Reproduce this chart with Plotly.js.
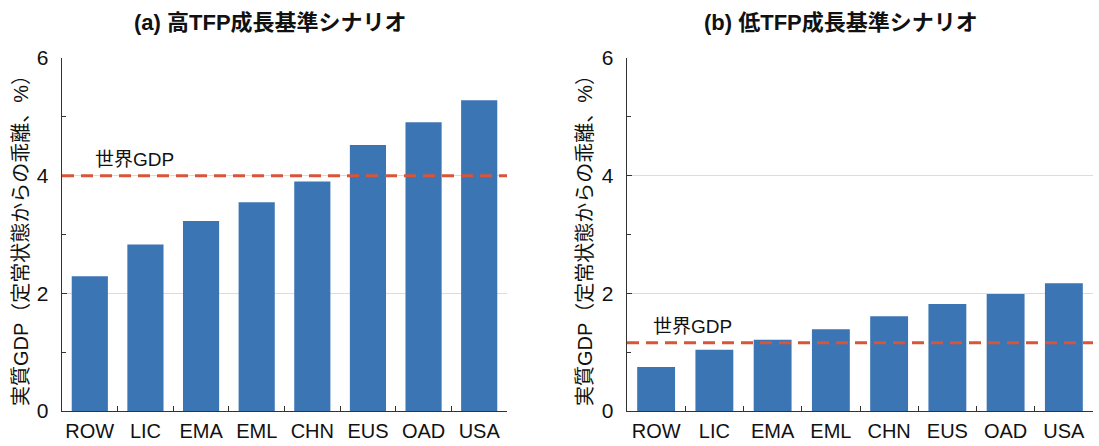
<!DOCTYPE html>
<html>
<head>
<meta charset="utf-8">
<script src="https://cdn.plot.ly/plotly-3.0.1.min.js"></script>
<style>html,body{margin:0;padding:0;background:#fff;}#chart{width:1099px;height:446px;}</style>
</head>
<body>
<div id="chart"></div>
<script>
const categories = ["ROW", "LIC", "EMA", "EML", "CHN", "EUS", "OAD", "USA"];
const highTFP = [2.29, 2.83, 3.23, 3.55, 3.90, 4.52, 4.91, 5.28];
const lowTFP = [0.75, 1.04, 1.21, 1.39, 1.61, 1.82, 1.99, 2.17];
const worldHigh = 4.0;
const worldLow = 1.16;
const titles = ["(a) 高TFP成長基準シナリオ", "(b) 低TFP成長基準シナリオ"];
const yTitle = "実質GDP（定常状態からの乖離、%）";
const worldLabel = "世界GDP";

const FONT = "Liberation Sans, Arial, Noto Sans CJK JP, sans-serif";
const BAR = "#3b75b3";
const LINE = "#d8553a";

const W = 1099, H = 446;
const px = v => v / W, py = v => 1 - v / H;

const traces = [
  {type: "bar", x: categories, y: highTFP, xaxis: "x", yaxis: "y", marker: {color: BAR}, hoverinfo: "x+y"},
  {type: "bar", x: categories, y: lowTFP, xaxis: "x2", yaxis: "y2", marker: {color: BAR}, hoverinfo: "x+y"}
];

const yax = {
  range: [0, 6], dtick: 2, tick0: 0, showgrid: true, gridcolor: "#dcdcdc", gridwidth: 1,
  ticks: "inside", ticklen: 5, tickcolor: "#333", showline: true, linecolor: "#333", linewidth: 1.3,
  minor: {dtick: 1, ticks: "inside", ticklen: 4, tickcolor: "#333", showgrid: false},
  tickfont: {size: 21, color: "#111", family: FONT}, zeroline: false, fixedrange: true,
  ticklabelstandoff: 8
};
const xax = {
  type: "category", showline: true, linecolor: "#333", linewidth: 1.3, ticks: "inside",
  tickson: "boundaries", ticklen: 5, tickcolor: "#333", showgrid: false, tickangle: 0,
  tickfont: {size: 20, color: "#111", family: FONT}, fixedrange: true, ticklabelstandoff: 2
};

const yDom = [(H - 411) / H, (H - 58) / H];

const layout = {
  width: W, height: H,
  margin: {l: 0, r: 0, t: 0, b: 0},
  paper_bgcolor: "#fff", plot_bgcolor: "#fff",
  showlegend: false, bargap: 0.35,
  font: {family: FONT, color: "#111"},
  xaxis: Object.assign({}, xax, {domain: [px(62), px(507)], anchor: "y"}),
  yaxis: Object.assign({}, yax, {domain: yDom, anchor: "x"}),
  xaxis2: Object.assign({}, xax, {domain: [px(627), px(1093)], anchor: "y2"}),
  yaxis2: Object.assign({}, yax, {domain: yDom, anchor: "x2"}),
  shapes: [
    {type: "line", xref: "x domain", yref: "y", x0: 0, x1: 1, y0: worldHigh, y1: worldHigh,
     line: {color: LINE, width: 3, dash: "12px,7px"}, layer: "above"},
    {type: "line", xref: "x2 domain", yref: "y2", x0: 0, x1: 1, y0: worldLow, y1: worldLow,
     line: {color: LINE, width: 3, dash: "12px,7px"}, layer: "above"}
  ],
  annotations: [
    {text: "<b>" + titles[0] + "</b>", xref: "paper", yref: "paper", x: px(270), y: py(22),
     showarrow: false, font: {size: 22, family: FONT, color: "#111"}, xanchor: "center", yanchor: "middle"},
    {text: "<b>" + titles[1] + "</b>", xref: "paper", yref: "paper", x: px(841), y: py(22),
     showarrow: false, font: {size: 22, family: FONT, color: "#111"}, xanchor: "center", yanchor: "middle"},
    {text: yTitle, xref: "paper", yref: "paper", x: px(21), y: py(236), textangle: -90,
     showarrow: false, font: {size: 20, family: FONT, color: "#111"}, xanchor: "center", yanchor: "middle"},
    {text: yTitle, xref: "paper", yref: "paper", x: px(585), y: py(236), textangle: -90,
     showarrow: false, font: {size: 20, family: FONT, color: "#111"}, xanchor: "center", yanchor: "middle"},
    {text: worldLabel, xref: "paper", yref: "y", x: px(93), y: worldHigh + 0.28,
     showarrow: false, font: {size: 19, family: FONT, color: "#111"}, xanchor: "left", yanchor: "middle"},
    {text: worldLabel, xref: "paper", yref: "y2", x: px(651), y: worldLow + 0.28,
     showarrow: false, font: {size: 19, family: FONT, color: "#111"}, xanchor: "left", yanchor: "middle"}
  ]
};

Plotly.newPlot("chart", traces, layout, {displayModeBar: false, staticPlot: true});
</script>
</body>
</html>
